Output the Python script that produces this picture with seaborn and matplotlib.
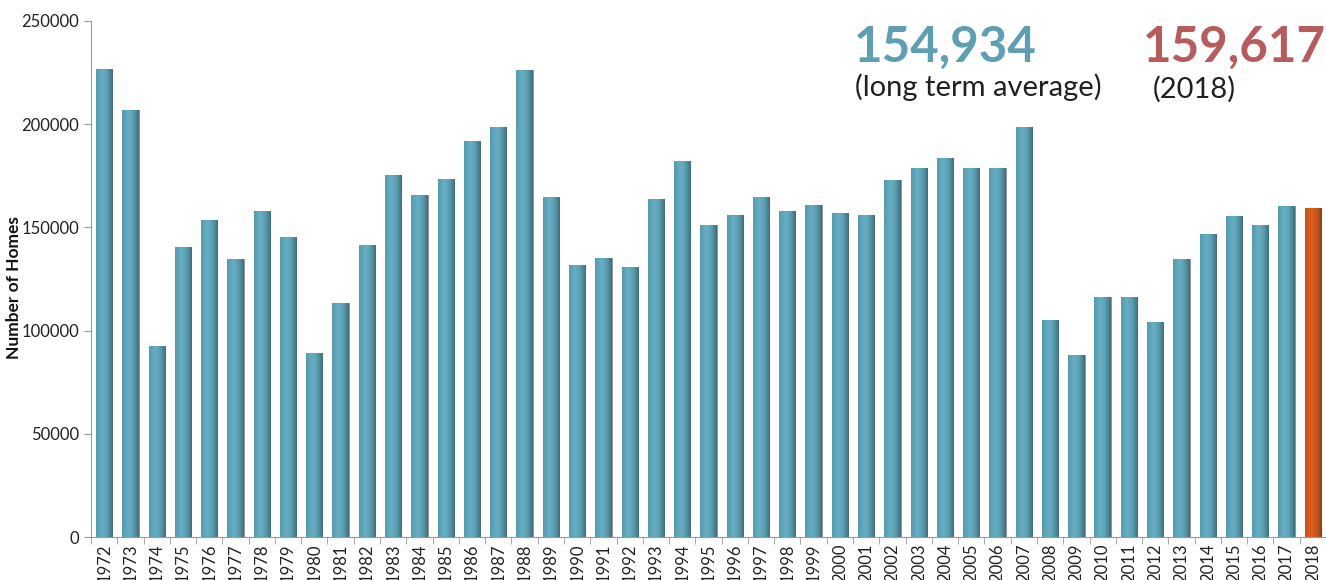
import numpy as np
import pandas as pd
import matplotlib
matplotlib.use('Agg')
import matplotlib.pyplot as plt
from matplotlib.colors import to_rgb
import seaborn as sns

sns.set_style('white')
sns.set_style('ticks')
plt.rcParams['font.family'] = ['Lato', 'DejaVu Sans']

# data
years = [str(y) for y in range(1972, 2019)]
homes = [226700, 206700, 92700, 140400, 153400, 134600, 157800, 145500, 89100, 113600,
         141600, 175500, 165700, 173400, 191900, 198700, 226200, 164800, 132000, 135000,
         131000, 163600, 182300, 151300, 155900, 164800, 158100, 161000, 157100, 155900,
         173100, 178600, 183800, 178600, 178900, 198700, 105200, 88200, 116300, 116200,
         104400, 134600, 146700, 155400, 151300, 160500, 159617]
avg_label = '154,934'
last_label = '159,617'

teal = '#5b9db1'
orange = '#c9561b'

df = pd.DataFrame({'year': years, 'homes': homes})
pal = {y: teal for y in years}
pal[years[-1]] = orange


def shade(base, n=64):
    # cylinder-ish shading across the bar width
    c = np.array(to_rgb(base))
    t = np.linspace(0, 1, n)
    light = np.clip(1.0 - ((t - 0.33) / 0.67) ** 2 * 0.75, 0, 1)
    light = np.where(t < 0.33, 0.78 + 0.22 * (t / 0.33), light)
    k = 0.55 + 0.55 * light
    rgb = np.clip(c[None, :] * k[:, None], 0, 1)
    return rgb[None, :, :]


fig = plt.figure(figsize=(13.26, 5.8), dpi=100)
ax = fig.add_axes([0.0686, 0.0741, 0.9314, 0.8897])

sns.barplot(data=df, x='year', y='homes', hue='year', palette=pal, legend=False,
            width=0.62, edgecolor='#8c8c8c', linewidth=0.6, saturation=1, ax=ax)

for p, y in zip(ax.patches, years):
    x0, w, h = p.get_x(), p.get_width(), p.get_height()
    im = ax.imshow(shade(pal[y]), extent=[x0, x0 + w, 0, h], aspect='auto',
                   zorder=p.get_zorder() + 0.1, interpolation='bilinear')
    im.set_clip_path(p)

ax.set_xlim(-0.5, len(years) - 0.5)
ax.set_ylim(0, 250000)
ax.set_yticks(np.arange(0, 250001, 50000))
ax.set_ylabel('Number of Homes', fontsize=12.5, fontweight='bold', color='#111111')
ax.yaxis.set_label_coords(-0.056, 0.483)
ax.set_xlabel('')

ax.set_xticks(range(len(years)))
ax.set_xticklabels(years, rotation=90, fontsize=12, color='#222222')
ax.tick_params(axis='x', which='major', length=0, pad=5)
ax.set_xticks(np.arange(-0.5, len(years), 1), minor=True)
ax.tick_params(axis='x', which='minor', length=5, color='#999999')
ax.tick_params(axis='y', labelsize=12, labelcolor='#222222', color='#999999', length=5)

sns.despine(ax=ax, top=True, right=True)
ax.spines['left'].set_color('#999999')
ax.spines['bottom'].set_color('#999999')

fig.text(0.644, 0.893, avg_label, fontsize=35.5, fontweight='bold', color='#5f9fb3')
fig.text(0.645, 0.835, '(long term average)', fontsize=21, color='#231f20')
fig.text(0.9995, 0.893, last_label, fontsize=35.5, fontweight='bold', color='#b65c5c', ha='right')
fig.text(0.869, 0.832, '(2018)', fontsize=21, color='#231f20')

fig.savefig('out.png', dpi=100)
